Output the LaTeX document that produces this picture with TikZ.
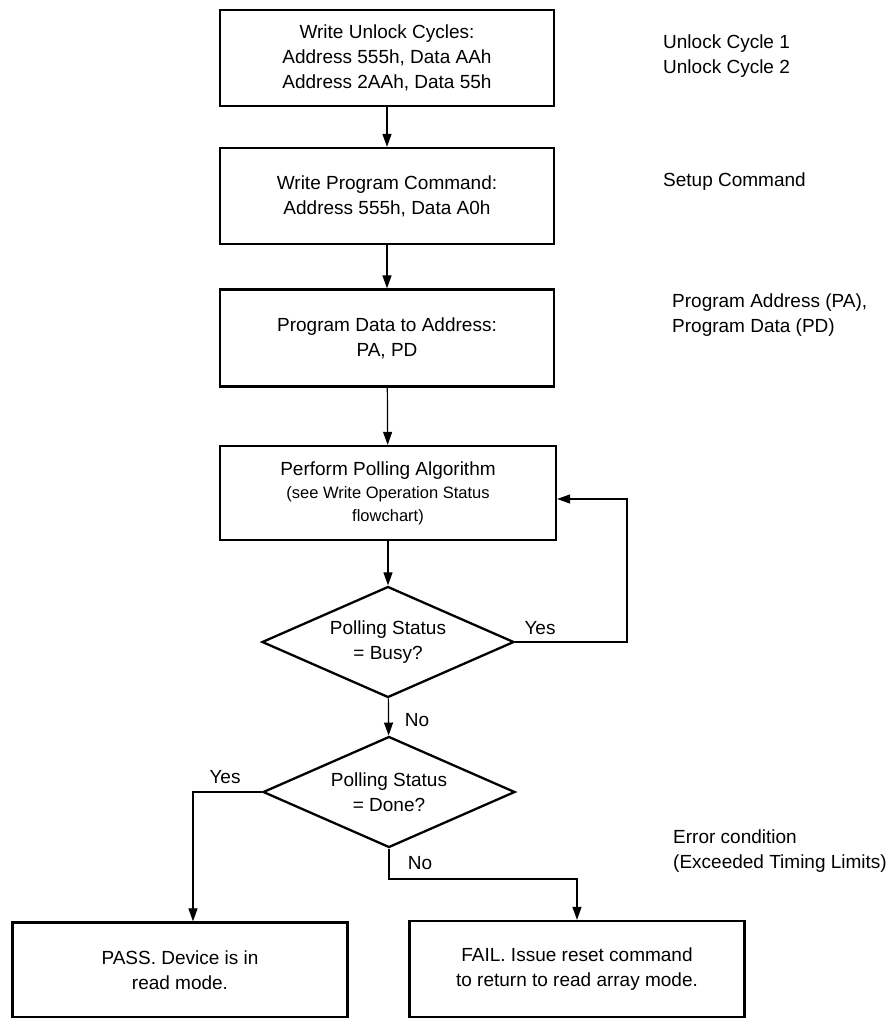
\documentclass[tikz,border=0pt]{standalone}
\usepackage{fontspec}
\setmainfont{Liberation Sans}
\usetikzlibrary{shapes.geometric,arrows.meta}
\newcommand{\notesize}{\fontsize{16.5}{23}\selectfont}

\begin{document}
\begin{tikzpicture}[x=1pt, y=-1pt,
	every node/.style={font=\fontsize{19}{25}\selectfont, align=center, inner sep=0pt},
	stepbox/.style={draw, line width=2.3pt, minimum width=334pt, minimum height=96pt},
	query/.style={draw, diamond, aspect=2.27, line width=2.3pt, minimum width=252pt, minimum height=111pt},
	flow/.style={-{Triangle[length=13pt,width=9pt]}, line width=1.2pt},
	side/.style={anchor=west, align=left}]
	\useasboundingbox (0,0) rectangle (890,1018);
	% main column
	\node[stepbox] (unlock) at (387,58) {Write Unlock Cycles:\\Address 555h, Data AAh\\Address 2AAh, Data 55h};
	\node[stepbox] (cmd) at (387,196) {Write Program Command:\\Address 555h, Data A0h};
	\node[stepbox, minimum height=97pt] (data) at (387,338) {Program Data to Address:\\PA, PD};
	\node[stepbox, minimum width=336pt, minimum height=94pt, font=\fontsize{19}{23}\selectfont] (poll) at (388,493)
		{Perform Polling Algorithm\\\notesize(see Write Operation Status\\\notesize flowchart)};
	\node[query] (busy) at (388,642) {Polling Status\\= Busy?};
	\node[query] (done) at (389,792) {Polling Status\\= Done?};
	\node[stepbox, minimum width=335pt, minimum height=95pt] (pass) at (180,970) {PASS. Device is in\\read mode.};
	\node[stepbox, minimum width=335pt, minimum height=96pt] (fail) at (577,969) {FAIL. Issue reset command\\to return to read array mode.};
	% notes on the right
	\node[side] (note1) at (663,56) {Unlock Cycle 1\\Unlock Cycle 2};
	\node[side] (note2) at (663,182) {Setup Command};
	\node[side] (note3) at (672,315) {Program Address (PA),\\Program Data (PD)};
	\node[side] (note4) at (673,851) {Error condition\\(Exceeded Timing Limits)};
	% connectors
	\coordinate (loop) at (627,499);
	\coordinate (nobend) at (389,879);
	\path[flow]
	(unlock) edge (cmd)
	(cmd) edge (data)
	(data) edge (poll)
	(poll) edge (busy)
	(busy) edge (done);
	\draw[flow] (busy.east) -| (loop) -- (loop -| poll.east);
	\draw[flow] (done.west) -| ([xshift=13pt]pass.north);
	\draw[flow] (done.south) -- (nobend) -| (fail.north);
	\node (yes1) at (540,628) {Yes};
	\node (no1) at (417,720) {No};
	\node (yes2) at (225,777) {Yes};
	\node (no2) at (420,863) {No};
\end{tikzpicture}
\end{document}
